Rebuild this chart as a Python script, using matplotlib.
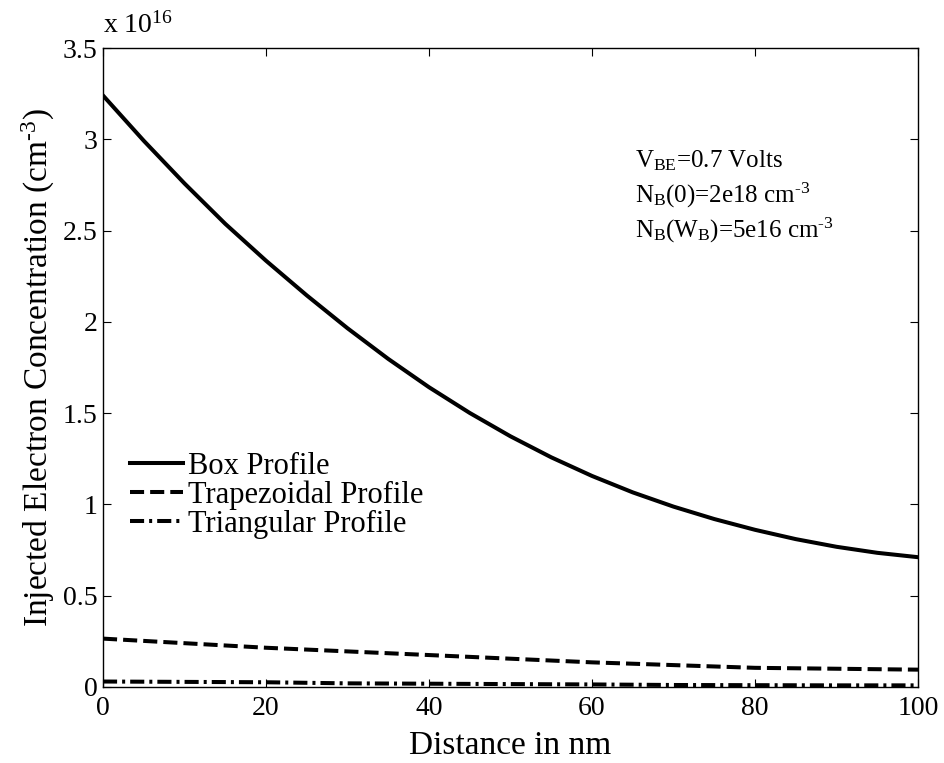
import matplotlib
matplotlib.use("Agg")
import matplotlib.pyplot as plt

plt.rcParams['font.family'] = ['Liberation Serif', 'DejaVu Serif']
plt.rcParams['mathtext.fontset'] = 'custom'
plt.rcParams['mathtext.rm'] = 'Liberation Serif'
plt.rcParams['mathtext.it'] = 'Liberation Serif:italic'
plt.rcParams['mathtext.default'] = 'regular'

# Data (concentration in units of 1e16 cm^-3)
x_box = [0, 5, 10, 15, 20, 25, 30, 35, 40, 45, 50, 55, 60, 65, 70, 75, 80, 85, 90, 95, 100]
box = [3.24, 2.992, 2.758, 2.537, 2.335, 2.145, 1.965, 1.797, 1.642, 1.501, 1.373,
       1.258, 1.156, 1.066, 0.988, 0.920, 0.861, 0.810, 0.768, 0.735, 0.711]
x_low = [0, 10, 20, 30, 40, 50, 60, 70, 80, 90, 100]
trap = [0.265, 0.24, 0.215, 0.195, 0.175, 0.155, 0.135, 0.12, 0.105, 0.10, 0.095]
tri = [0.03, 0.028, 0.026, 0.020, 0.018, 0.016, 0.014, 0.011, 0.010, 0.009, 0.009]

labels = ['Box Profile', 'Trapezoidal Profile', 'Triangular Profile']
xticks = [0, 20, 40, 60, 80, 100]
yticks = [0, 0.5, 1, 1.5, 2, 2.5, 3, 3.5]
ytick_labels = ['0', '0.5', '1', '1.5', '2', '2.5', '3', '3.5']

fig = plt.figure(figsize=(9.45, 7.63), dpi=100)
ax = fig.add_axes([103/945, 1-687/763, 815/945, 639/763])

lw = 2.9
ax.plot(x_box, box, color='black', lw=lw, linestyle='-', label=labels[0])
ax.plot(x_low, trap, color='black', lw=lw, linestyle=(0, (3.5, 1.5)), label=labels[1])
ax.plot(x_low, tri, color='black', lw=lw, linestyle=(0, (3.5, 1.25, 0.75, 1.25)), label=labels[2])

ax.set_xlim(0, 100)
ax.set_ylim(0, 3.5)
ax.set_xticks(xticks)
ax.set_yticks(yticks)
ax.set_yticklabels(ytick_labels)
ax.tick_params(direction='in', length=6, width=0.8, top=True, right=True, labelsize=20)
ax.tick_params(axis='x', pad=6.5)
ax.tick_params(axis='y', pad=4)
for s in ax.spines.values():
    s.set_linewidth(1.0)

ax.set_xlabel('Distance in nm', fontsize=24, labelpad=7)
ax.set_ylabel(r'Injected Electron Concentration (cm$^{\text{-3}}$)', fontsize=24, labelpad=4)

ax.text(0, 1.014, 'x 10$^{16}$', transform=ax.transAxes, fontsize=20,
        ha='left', va='bottom')

ax.text(65.3, 2.848, 'V$_{BE}$=0.7 Volts', fontsize=18, va='baseline', ha='left')
ax.text(65.3, 2.656, r'N$_B$(0)=2e18 cm$^{\text{-3}}$', fontsize=18, va='baseline', ha='left')
ax.text(65.3, 2.464, r'N$_B$(W$_B$)=5e16 cm$^{\text{-3}}$', fontsize=18, va='baseline', ha='left')

leg = ax.legend(loc='center left', bbox_to_anchor=(0.033, 0.300), frameon=False,
                fontsize=22, handlelength=1.75, handletextpad=0.15, labelspacing=0.0,
                borderpad=0, borderaxespad=0)

fig.savefig('out.png', dpi=100)
